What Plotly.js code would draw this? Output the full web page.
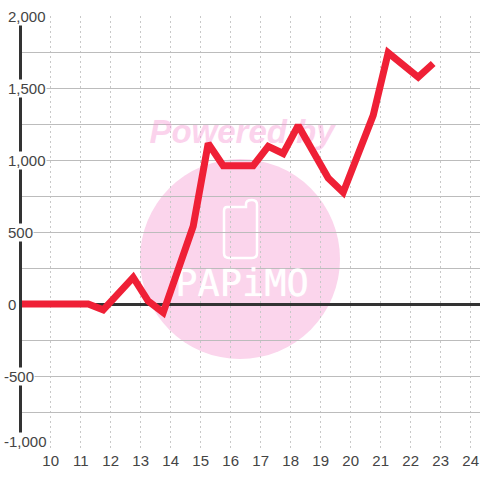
<!DOCTYPE html>
<html>
<head>
<meta charset="utf-8">
<script src="https://cdn.plot.ly/plotly-3.0.1.min.js"></script>
<style>html,body{margin:0;padding:0;background:#fff}</style>
</head>
<body>
<div id="chart" style="width:480px;height:480px"></div>
<script>
var times = [8.9, 11.25, 11.75, 12.75, 13.25, 13.75, 14.75, 15.25, 15.75, 16.75, 17.25, 17.75, 18.25, 19.25, 19.75, 20.75, 21.25, 22.25, 22.75];
var values = [0, 0, -40, 185, 20, -60, 540, 1115, 960, 960, 1095, 1045, 1240, 875, 775, 1310, 1745, 1575, 1670];
var xTicks = [10, 11, 12, 13, 14, 15, 16, 17, 18, 19, 20, 21, 22, 23, 24];
var yTicks = [2000, 1500, 1000, 500, 0, -500, -1000];
var yTickLabels = ['2,000', '1,500', '1,000', '500', '0', '-500', '-1,000'];

var L = 22, T = 16, B = 32, W = 480, H = 480;
var xRange = [10 + (L - 50.7) / 30, 10 + (W - 50.7) / 30];
var yRange = [-1000, 2000];
var px = function (p) { return xRange[0] + (p - L) / 30; };
var py = function (p) { return 2000 - (p - T) / 0.144; };
var pp = function (p) { return (p - L) / (W - L); };
var pq = function (p) { return 1 - (p - T) / (H - T - B); };
var P = function (c, a, b) { return c + pp(a) + ',' + pq(b) + ' '; };
var phone = P('M', 227, 207) + P('L', 246, 207) + P('L', 246, 204) + P('Q', 246, 200) + P('', 252, 200) +
  P('Q', 257, 200) + P('', 257, 205) + P('L', 257, 253) + P('Q', 257, 258) + P('', 252, 258) +
  P('L', 229, 258) + P('Q', 224, 258) + P('', 224, 253) + P('L', 224, 211) + P('Q', 224, 207) + P('', 227, 207) + 'Z';

var font = 'Liberation Sans, Arial, sans-serif';
var traces = [
  { x: [px(242)], y: [py(135)], mode: 'text', text: ['Powered by'], textposition: 'middle center',
    textfont: { family: font, size: 33, weight: 'bold', style: 'italic', color: 'rgba(246,150,212,0.36)',
      shadow: '0 0 1px rgba(246,150,212,0.3)' },
    hoverinfo: 'skip', showlegend: false },
  { x: [px(242)], y: [py(287)], mode: 'text', text: ['PAPiMO'], textposition: 'middle center',
    textfont: { family: 'DejaVu Sans Mono, monospace', size: 37, color: 'rgba(255,255,255,0.92)',
      shadow: '0 0 1px #ffffff' },
    hoverinfo: 'skip', showlegend: false },
  { x: times, y: values, mode: 'lines', cliponaxis: false,
    line: { color: '#ef2036', width: 7, shape: 'linear' }, hoverinfo: 'skip', showlegend: false }
];

var annotations = yTicks.map(function (v, i) {
  return { xref: 'paper', yref: 'y', x: pp(v < 0 ? 3 : 7), y: v, yshift: v === -1000 ? 6.5 : 0,
    xanchor: 'left', yanchor: 'middle',
    text: yTickLabels[i], showarrow: false, bgcolor: '#ffffff', borderpad: 0,
    font: { family: font, size: 15, color: '#444444' } };
});

var layout = {
  width: W, height: H, margin: { l: L, r: 0, t: T, b: B },
  paper_bgcolor: '#ffffff', plot_bgcolor: 'rgba(0,0,0,0)', showlegend: false,
  xaxis: { range: xRange, tickvals: xTicks, ticktext: xTicks.map(String), ticks: '', showline: false, zeroline: false,
    showgrid: true, gridcolor: '#c8c8c8', gridwidth: 1, griddash: '2px,3px', ticklabelstandoff: 2,
    tickfont: { family: font, size: 15, color: '#444444' } },
  yaxis: { range: yRange, dtick: 250, tick0: 0, showticklabels: false, ticks: '',
    showline: true, linecolor: '#333333', linewidth: 3,
    zeroline: true, zerolinecolor: '#333333', zerolinewidth: 3,
    showgrid: true, gridcolor: '#bcbcbc', gridwidth: 1 },
  annotations: annotations,
  shapes: [
    { type: 'circle', xref: 'paper', yref: 'paper', layer: 'below', x0: pp(140), x1: pp(340), y0: pq(359), y1: pq(159),
      fillcolor: '#fbd5ec', line: { width: 0 } },
    { type: 'path', xref: 'paper', yref: 'paper', layer: 'below', path: phone,
      fillcolor: 'rgba(0,0,0,0)', line: { color: '#ffffff', width: 2.5 } }
  ]
};
Plotly.newPlot('chart', traces, layout, { displayModeBar: false, staticPlot: true });
</script>
</body>
</html>
